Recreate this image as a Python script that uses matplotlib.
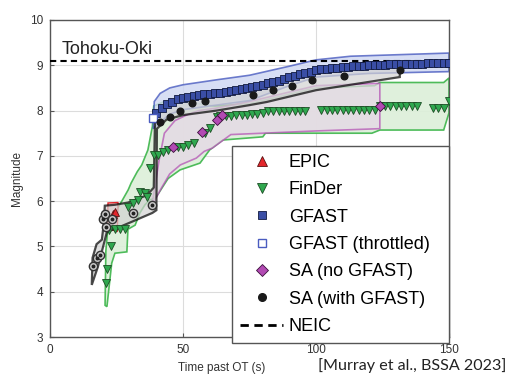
import matplotlib
matplotlib.use("Agg")
import matplotlib.pyplot as plt
from matplotlib.lines import Line2D

plt.rcParams['font.family'] = ['Liberation Sans', 'DejaVu Sans']

# ---- data (time past OT in s, magnitude) ----
neic_mag = 9.1

# GFAST
gfast_t = list(range(40, 151, 2))
gfast_m = [7.95, 8.05, 8.14, 8.2, 8.25, 8.28, 8.31, 8.33, 8.34, 8.36, 8.37, 8.38, 8.39,
           8.41, 8.43, 8.45, 8.47, 8.49, 8.51, 8.54, 8.57, 8.6, 8.63, 8.66, 8.7, 8.74,
           8.77, 8.8, 8.83, 8.86, 8.89, 8.91, 8.92, 8.93, 8.95, 8.96, 8.97, 8.98, 8.98,
           8.99, 9.0, 9.0, 9.01, 9.01, 9.02, 9.02, 9.02, 9.03, 9.03, 9.03, 9.03, 9.04,
           9.04, 9.04, 9.04, 9.05]
gfast_thr_t = [38.7]
gfast_thr_m = [7.83]
gfast_up_t = [38.8, 39.2, 41.4, 45, 50, 62.7, 75, 90, 100, 113, 150]
gfast_up_m = [7.6, 8.2, 8.38, 8.5, 8.57, 8.68, 8.78, 8.98, 9.12, 9.2, 9.27]
gfast_lo_t = [150, 120, 100, 90, 75, 60, 50, 45, 41, 38.8]
gfast_lo_m = [8.86, 8.82, 8.74, 8.55, 8.22, 8.1, 8.02, 7.92, 7.72, 7.6]

# EPIC
epic_t = [23.6, 24.6]
epic_m = [5.72, 5.77]
epic_up_t = [21.6, 21.8, 25.6]
epic_up_m = [5.4, 5.96, 5.97]
epic_lo_t = [25.6, 25.3, 21.6]
epic_lo_m = [5.97, 5.33, 5.4]

# FinDer
finder_t = [21.0, 21.6, 22.9, 22.0, 24.4, 26.3, 28.3, 29.4, 31.3, 33.0, 33.8, 35.7, 36.4,
            37.6, 39.0, 40.6, 42.5, 44.4, 48, 50, 52, 54, 58.3, 60, 62.7,
            64, 66, 68, 70, 72, 74, 76, 78, 80,
            82, 84, 86, 88, 90, 92, 94, 96,
            102, 104, 106, 108, 110, 112, 114, 116, 118, 120, 122,
            124, 126, 128, 130, 132, 134, 136, 138,
            144, 146, 148, 150]
finder_m = [4.2, 4.5, 5.0, 5.37, 5.38, 5.38, 5.38, 5.87, 5.95, 6.03, 6.2, 6.18, 6.1,
            6.73, 7.02, 7.02, 7.08, 7.13, 7.2, 7.2, 7.24, 7.28, 7.5, 7.62, 7.85,
            7.87, 7.88, 7.89, 7.9, 7.9, 7.91, 7.92, 7.93, 7.94,
            7.98, 7.99, 7.99, 8.0, 8.0, 8.0, 8.0, 8.0,
            8.01, 8.01, 8.01, 8.01, 8.01, 8.01, 8.01, 8.01, 8.01, 8.01, 8.01,
            8.09, 8.09, 8.09, 8.09, 8.09, 8.09, 8.09, 8.09,
            8.06, 8.06, 8.06, 8.22]
finder_up_t = [20.7, 21.0, 21.8, 22.6, 24.4, 27, 29.4, 30.5, 32.8, 34.5, 36.8, 38, 38.5,
               39, 43, 47, 51.5, 56, 62, 75, 100, 122, 124, 148, 150]
finder_up_m = [3.7, 4.9, 5.45, 5.5, 5.75, 6.0, 6.25, 6.4, 6.65, 6.8, 7.13, 7.5, 7.65,
               8.1, 8.2, 8.22, 8.2, 8.15, 8.1, 8.15, 8.5, 8.55, 8.62, 8.62, 8.72]
finder_lo_t = [150, 148, 124, 121, 81, 80, 65, 60, 56.4, 48.9, 44.4, 40, 38.9, 37.6,
               35.7, 33.8, 32, 29.3, 28.9, 24.4, 23.2, 21.4]
finder_lo_m = [7.95, 7.57, 7.57, 7.5, 7.5, 7.42, 7.35, 7.13, 6.84, 6.69, 6.5, 6.1, 6.05,
               6.03, 5.92, 5.74, 5.47, 5.38, 4.88, 4.85, 4.63, 3.67]

# SA (no GFAST)
sa_no_t = [46.3, 57.0, 62.7, 64.6, 124.0]
sa_no_m = [7.2, 7.52, 7.8, 7.9, 8.1]
sa_no_up_t = [38.3, 41, 43, 47, 52, 56, 62, 75, 100, 123, 124]
sa_no_up_m = [5.9, 6.9, 7.5, 7.78, 7.92, 8.0, 8.05, 8.2, 8.55, 8.6, 8.6]
sa_no_lo_t = [124, 100, 68, 61, 58, 55, 49, 45, 42, 38.3]
sa_no_lo_m = [7.6, 7.55, 7.47, 7.17, 7.1, 6.95, 6.8, 6.6, 6.3, 5.9]

# SA (with GFAST)
sa_gf_t = [41.4, 45, 49, 53.3, 58.3, 76.4, 84, 91, 98.6, 110.5, 131.5]
sa_gf_m = [7.75, 7.86, 8.0, 8.16, 8.21, 8.34, 8.45, 8.55, 8.68, 8.77, 8.9]
sa_early_t = [16.3, 17.8, 18.8, 19.8, 20.7, 21.2, 23.4, 31.3, 38.5]
sa_early_m = [4.57, 4.75, 4.82, 5.6, 5.72, 5.42, 5.6, 5.74, 5.92]
sa_gf_up_t = [15.7, 16, 17.5, 19.5, 20.2, 20.6, 24.4, 29.4, 36.4, 39, 39.5, 42, 45, 50, 56,
              63, 75, 82, 90, 100, 110, 120, 131.5]
sa_gf_up_m = [4.15, 4.75, 5.05, 5.15, 5.5, 5.9, 5.92, 5.97, 6.13, 6.3, 7.9, 8.05, 8.14,
              8.26, 8.32, 8.38, 8.47, 8.54, 8.7, 8.86, 8.94, 8.97, 9.0]
sa_gf_lo_t = [131.5, 100, 81.5, 75, 62.7, 50, 43.8, 40.2, 40, 38.5, 31, 25, 21.4, 18, 15.7]
sa_gf_lo_m = [8.74, 8.45, 8.19, 8.12, 8.0, 7.9, 7.8, 7.6, 5.8, 5.74, 5.55, 5.4, 5.32, 4.55,
              4.15]

c_green = "#2fa84f"
c_green_fill = "#dcefd9"
c_red = "#e3262b"
c_blue = "#3a4ea5"
c_blue_edge = "#4a5cc0"
c_blue_fill = "#cdd6f2"
c_mag = "#b24ab3"
c_mag_fill = "#e6d6e6"
c_gray_fill = "#d2d2d2"

fig = plt.figure(figsize=(5.1, 3.78), dpi=100)
ax = fig.add_axes([50 / 510, 1 - 337 / 378, 399 / 510, 317 / 378])

# uncertainty bands
ax.fill(finder_up_t + finder_lo_t, finder_up_m + finder_lo_m, facecolor=c_green_fill,
        edgecolor="#3cb54a", lw=1.2, alpha=0.9, zorder=1)
ax.fill(sa_no_up_t + sa_no_lo_t, sa_no_up_m + sa_no_lo_m, facecolor=c_mag_fill,
        edgecolor=c_mag, lw=1.2, alpha=0.7, zorder=2)
ax.fill(epic_up_t + epic_lo_t, epic_up_m + epic_lo_m, facecolor="#f4d0d0",
        edgecolor=c_red, lw=1.0, zorder=2)
ax.fill(gfast_up_t + gfast_lo_t, gfast_up_m + gfast_lo_m, facecolor=c_blue_fill,
        edgecolor=c_blue_edge, lw=1.2, alpha=0.8, zorder=2.5)
ax.fill(sa_gf_up_t + sa_gf_lo_t, sa_gf_up_m + sa_gf_lo_m, facecolor=c_gray_fill,
        edgecolor="black", lw=1.6, alpha=0.7, zorder=3)

ax.axhline(neic_mag, color="black", ls=(0, (3, 2)), lw=1.5, zorder=6)

# estimates
ax.plot(finder_t, finder_m, ls="none", marker="v", ms=5.5, mfc=c_green,
        mec="#1d4d25", mew=0.6, zorder=5)
ax.plot(epic_t, epic_m, ls="none", marker="^", ms=5.5, mfc=c_red, mec="#5a1010",
        mew=0.6, zorder=5)
ax.plot(sa_early_t, sa_early_m, ls="none", marker="o", ms=6, mfc="#c8c8c8",
        mec="#333333", mew=1.0, zorder=6)
ax.plot(sa_early_t, sa_early_m, ls="none", marker="o", ms=1.8, mfc="#222222",
        mec="#222222", zorder=6.5)
ax.plot(gfast_t, gfast_m, ls="none", marker="s", ms=5.5, mfc=c_blue, mec="#111a40",
        mew=0.6, zorder=6)
ax.plot(gfast_thr_t, gfast_thr_m, ls="none", marker="s", ms=5.5, mfc="white",
        mec=c_blue_edge, mew=1.0, zorder=6)
ax.plot(sa_gf_t, sa_gf_m, ls="none", marker="o", ms=4.8, mfc="#1a1a1a", mec="#1a1a1a",
        zorder=7)
ax.plot(sa_no_t, sa_no_m, ls="none", marker="D", ms=5.5, mfc=c_mag, mec="#3a103a",
        mew=0.6, zorder=7)

ax.set_xlim(0, 150)
ax.set_ylim(3, 10)
ax.set_xticks([0, 50, 100, 150])
ax.set_yticks(range(3, 11))
ax.grid(True, color="#dcdcdc", lw=0.8)
ax.set_axisbelow(True)
for s in ax.spines.values():
    s.set_color("#555555")
    s.set_linewidth(1.0)
ax.tick_params(direction="in", length=3, color="#555555", labelcolor="#333333",
               labelsize=8.5, pad=5)
ax.set_ylabel("Magnitude", fontsize=8.5, color="#333333")
ax.yaxis.set_label_coords(-0.068, 0.5)
ax.set_xlabel("Time past OT (s)", fontsize=8.5, color="#333333")
ax.xaxis.set_label_coords((222 - 50) / 399, -0.08)

ax.text(0.03, 0.935, "Tohoku-Oki", transform=ax.transAxes, fontsize=13,
        va="top", ha="left", color="#222222")

handles = [
    Line2D([], [], ls="none", marker="^", ms=7, mfc=c_red, mec="#5a1010", mew=0.6),
    Line2D([], [], ls="none", marker="v", ms=7, mfc=c_green, mec="#1d4d25", mew=0.6),
    Line2D([], [], ls="none", marker="s", ms=6, mfc=c_blue, mec="#111a40", mew=0.6),
    Line2D([], [], ls="none", marker="s", ms=6, mfc="white", mec=c_blue_edge, mew=1.0),
    Line2D([], [], ls="none", marker="D", ms=6, mfc=c_mag, mec="#3a103a", mew=0.6),
    Line2D([], [], ls="none", marker="o", ms=5.5, mfc="#1a1a1a", mec="#1a1a1a"),
    Line2D([], [], color="black", ls=(0, (3, 2)), lw=2),
]
labels = ["EPIC", "FinDer", "GFAST", "GFAST (throttled)", "SA (no GFAST)",
          "SA (with GFAST)", "NEIC"]
leg = ax.legend(handles, labels, loc="upper left",
                bbox_to_anchor=(0.456, -0.01, 0.544, 0.6125), mode="expand",
                fontsize=13, frameon=True, fancybox=False, framealpha=1,
                edgecolor="#555555", borderaxespad=0, borderpad=0.45,
                labelspacing=0.57, handlelength=2.4, handletextpad=0.3)
leg.get_frame().set_linewidth(1.0)
leg.set_zorder(10)
# pull the legend content a little towards the left border
leg._legend_box.align = "left"
leg.borderpad = 0.45

fig.text(318 / 510, 1 - 366 / 378, "[Murray et al., BSSA 2023]", fontsize=11.6,
         family=["Lato", "DejaVu Sans"], va="center", ha="left", color="#222222")

fig.savefig("out.png", dpi=100)
